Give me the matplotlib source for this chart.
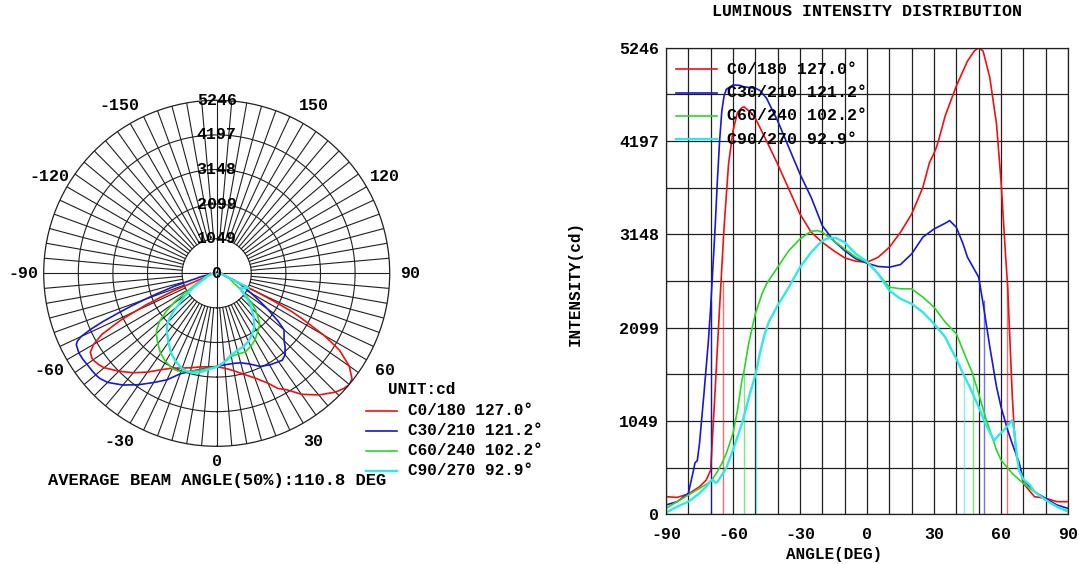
import numpy as np
import matplotlib
matplotlib.use('Agg')
import matplotlib.pyplot as plt
from matplotlib.lines import Line2D

# данные (угол, градусы -> сила света, кд)
names = ['C0/180', 'C30/210', 'C60/240', 'C90/270']
beam_labels = ['127.0°', '121.2°', '102.2°', '92.9°']
colors = ['#f01010', '#1818d0', '#28d828', '#30e8e8']

ang_c0 = [-90, -85, -80, -75, -72, -70, -68, -66, -64, -62, -60, -58, -56, -55, -52, -50, -45, -40, -35, -30,
          -25, -20, -15, -10, -5, 0, 5, 10, 15, 20, 25, 28, 30, 31, 32, 35, 40, 45, 48, 50,
          52, 55, 58, 60, 62, 63, 64, 65, 66, 67, 68, 70, 75, 80, 85, 90]
int_c0 = [198, 190, 228, 310, 385, 497, 1395, 2330, 3227, 3937, 4311, 4517, 4573, 4580, 4517, 4453, 4199, 3937, 3657, 3376,
          3171, 3058, 2965, 2883, 2845, 2834, 2890, 3002, 3171, 3376, 3675, 3956, 4060, 4120, 4200, 4479, 4816, 5096, 5208, 5246,
          5208, 4909, 4386, 3750, 2928, 2554, 1956, 1357, 909, 647, 572, 348, 198, 180, 142, 142]

ang_c30 = [-90, -85, -80, -78, -77, -76, -75, -73, -71, -70, -69, -68, -67, -66, -65, -64, -63, -60, -57, -55,
           -52, -50, -48, -45, -40, -35, -30, -25, -20, -15, -10, -5, 0, 5, 10, 15, 20, 25, 30, 35,
           37, 40, 43, 45, 50, 52, 55, 58, 60, 63, 65, 68, 70, 75, 80, 85, 90]
int_c30 = [105, 142, 236, 460, 580, 602, 796, 1357, 1955, 2329, 2778, 3227, 3750, 4199, 4535, 4704, 4778, 4827, 4823, 4805,
           4797, 4790, 4767, 4678, 4423, 4124, 3825, 3563, 3245, 3077, 2965, 2872, 2823, 2786, 2778, 2808, 2928, 3115, 3208, 3272,
           3302, 3227, 3040, 2890, 2666, 2367, 1881, 1432, 1208, 946, 796, 591, 385, 254, 179, 105, 67]

ang_c60 = [-90, -85, -80, -75, -70, -67, -65, -63, -61, -60, -58, -56, -55, -53, -50, -47, -45, -40, -35, -30,
           -25, -22, -20, -15, -10, -5, 0, 5, 10, 15, 20, 25, 30, 35, 40, 43, 47, 50, 53, 55,
           58, 60, 65, 70, 75, 80, 85, 90]
int_c60 = [67, 142, 217, 292, 366, 479, 572, 684, 834, 909, 1170, 1507, 1619, 1918, 2255, 2479, 2591, 2778, 2965, 3096,
           3182, 3189, 3171, 3077, 2984, 2890, 2835, 2703, 2554, 2535, 2535, 2442, 2329, 2161, 2030, 1843, 1600, 1357, 1096, 946,
           722, 609, 460, 348, 254, 161, 86, 41]

ang_c90 = [-90, -85, -80, -75, -72, -70, -69, -68, -67, -65, -63, -60, -58, -56, -54, -52, -50, -48, -46, -44,
           -42, -40, -35, -30, -25, -20, -17, -14, -10, -5, 0, 5, 10, 15, 20, 25, 30, 35, 38, 40,
           43, 46, 50, 53, 56, 57, 59, 62, 65, 66, 67, 68, 70, 73, 75, 80, 85, 90]
int_c90 = [19, 86, 142, 236, 310, 378, 385, 355, 363, 441, 523, 722, 871, 1021, 1208, 1395, 1563, 1806, 2011, 2161,
           2255, 2348, 2554, 2778, 2946, 3077, 3107, 3107, 3058, 2928, 2840, 2703, 2516, 2423, 2367, 2273, 2142, 1993, 1843, 1750,
           1582, 1432, 1208, 1021, 871, 834, 890, 965, 1058, 927, 684, 497, 393, 329, 254, 161, 86, 30]

# границы луча (50%) для тонких вертикальных линий
beam_left = [-64.3, -69.8, -54.9, -49.7]
beam_right = [62.9, 52.2, 47.4, 43.4]

RMAX = 5246
r_labels = ['0', '1049', '2099', '3148', '4197', '5246']
polar_angle_labels = [-150, -120, -90, -60, -30, 0, 30, 60, 90, 120, 150]

angles = [ang_c0, ang_c30, ang_c60, ang_c90]
values = [int_c0, int_c30, int_c60, int_c90]

plt.rcParams['font.family'] = ['Liberation Mono', 'DejaVu Sans']
plt.rcParams['font.weight'] = 'bold'

W, H = 1079, 564
fig = plt.figure(figsize=(W / 100, H / 100), dpi=100)


def fx(px):
    return px / W


def fy(py):
    return 1 - py / H


GRID = '#202020'
widths = [1.2, 1.2, 1.2, 1.7]

# ---------------- полярная диаграмма ----------------
cx, cy, rad = 216.7, 273.3, 173
pax = fig.add_axes([fx(cx - rad), fy(cy + rad), 2 * rad / W, 2 * rad / H], projection='polar')
pax.set_theta_zero_location('S')
pax.set_ylim(0, RMAX)
pax.set_xticks([])
pax.set_yticks([])
pax.grid(False)
pax.spines['polar'].set_linewidth(0.9)
pax.spines['polar'].set_color(GRID)

step = RMAX / 5
full = np.linspace(0, 2 * np.pi, 400)
for k in range(1, 5):
    pax.plot(full, np.full_like(full, k * step), color=GRID, lw=0.8)
for d in range(0, 360, 5):
    t = np.deg2rad(d)
    r0 = 0 if d % 90 == 0 else step
    pax.plot([t, t], [r0, RMAX], color=GRID, lw=0.8)

for a, v, c, lw in zip(angles, values, colors, widths):
    pax.plot(np.deg2rad(a), v, color=c, lw=lw)

for k, lab in enumerate(r_labels):
    pax.text(np.pi, k * step, lab, ha='center', va='center', fontsize=12)
for a in polar_angle_labels:
    rr = 1.09 if a == 0 else 1.12
    pax.text(np.deg2rad(a), RMAX * rr, str(a), ha='center', va='center', fontsize=12, clip_on=False)

fig.text(fx(217.3), fy(480), 'AVERAGE BEAM ANGLE(50%):110.8 DEG', ha='center', va='center', fontsize=12.3)

# легенда полярной диаграммы
fig.text(fx(387.7), fy(389.3), 'UNIT:cd', ha='left', va='center', fontsize=11.5)
for i, (n, b, c) in enumerate(zip(names, beam_labels, colors)):
    yy = 410.7 + 20 * i
    fig.add_artist(Line2D([fx(366), fx(397)], [fy(yy), fy(yy)], color=c, lw=widths[i], transform=fig.transFigure))
    fig.text(fx(408.3), fy(yy), f'{n} {b}', ha='left', va='center', fontsize=11.5)

# ---------------- декартов график ----------------
x0, x1, y0, y1 = 666, 1068, 514.3, 47.7
ax = fig.add_axes([fx(x0), fy(y0), (x1 - x0) / W, (y0 - y1) / H])
ax.set_xlim(-90, 90)
ax.set_ylim(0, RMAX)
xt = np.arange(-90, 91, 10)
ax.set_xticks(xt)
ax.set_xticklabels([str(v) if v % 30 == 0 else '' for v in xt])
yt = np.linspace(0, RMAX, 11)
ax.set_yticks(yt)
ax.set_yticklabels([r_labels[i // 2] if i % 2 == 0 else '' for i in range(11)])
ax.tick_params(length=0, labelsize=12, pad=5)
ax.tick_params(axis='x', pad=9)
ax.grid(True, color=GRID, lw=0.9)
ax.set_axisbelow(True)
for s in ax.spines.values():
    s.set_color(GRID)
    s.set_linewidth(0.9)

for a, v, c, lw, bl, br in zip(angles, values, colors, widths, beam_left, beam_right):
    half = max(v) / 2
    ax.vlines([bl, br], 0, half, color=c, lw=1.0, alpha=0.6)
    ax.plot(a, v, color=c, lw=lw)

# легенда справа
for i, (n, b, c) in enumerate(zip(names, beam_labels, colors)):
    yy = 69.3 + 23.3 * i
    fig.add_artist(Line2D([fx(676), fx(717)], [fy(yy), fy(yy)], color=c, lw=widths[i], transform=fig.transFigure))
    fig.text(fx(726.7), fy(yy), f'{n} {b}', ha='left', va='center', fontsize=12)

fig.text(fx(866.7), fy(11), 'LUMINOUS INTENSITY DISTRIBUTION', ha='center', va='center', fontsize=12)
fig.text(fx(575), fy(283), 'INTENSITY(cd)', rotation=90, ha='center', va='center', fontsize=11.5)
fig.text(fx(834), fy(554), 'ANGLE(DEG)', ha='center', va='center', fontsize=11.5)

fig.savefig('out.png', dpi=100)
